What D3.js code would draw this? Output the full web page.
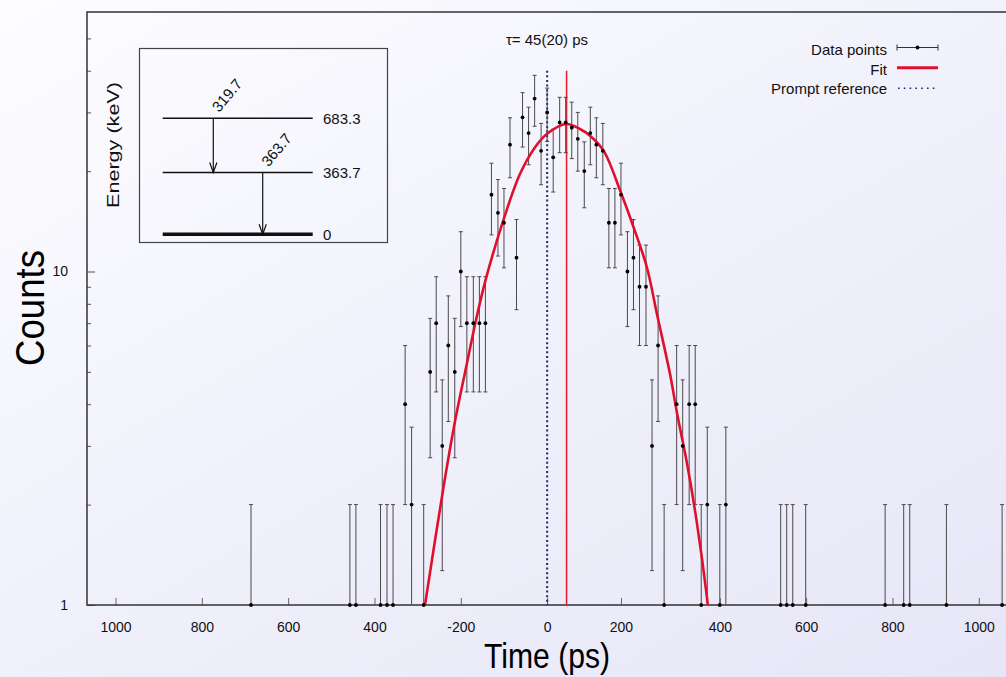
<!DOCTYPE html>
<html>
<head>
<meta charset="utf-8">
<script src="https://cdn.jsdelivr.net/npm/d3@7"></script>
<style>
  html, body { margin: 0; padding: 0; }
  body { width: 1006px; height: 677px; overflow: hidden;
         background: linear-gradient(150deg, #fdfdff 0%, #f2f2fc 45%, #e6e6f7 100%); }
  svg { display: block; font-family: "Liberation Sans", Arial, sans-serif; }
</style>
</head>
<body>
<svg id="chart" width="1006" height="677"></svg>
<script>
// ---------- data ----------
const times  = [-686,-457,-443,-386,-371,-357,-329,-314,-286,-271,-257,-243,-229,-214,-200,-186,-171,-157,-143,
                -129,-114,-100,-86,-71,-57,-43,-29,-14,0,14,29,43,57,71,86,100,114,129,143,157,171,186,200,214,
                229,243,257,271,300,314,329,343,357,371,400,414,541,555,569,599,783,826,840,925,1054];
const counts = [1,1,1,1,1,1,4,2,1,5,7,3,6,5,10,7,7,7,7,
                17,15,14,24,11,29,26,33,23,30,22,28,28,27,25,20,26,24,23,14,14,17,10,11,9,
                9,3,6,1,4,3,4,4,1,2,1,2,1,1,1,1,1,1,1,1,1];

const fitTimes  = [-283,-240,-213,-186,-163,-141,-101,-63,-28,0,44,77,100,131,169,200,231,254,285,301,324,347,370,372];
const fitCounts = [1.0,2.26,3.58,5.29,7.33,9.6,14.3,19.6,23.6,25.9,27.7,26.7,25.5,23.0,17.5,13.6,10.3,7.5,4.9,3.75,2.66,1.76,1.06,1.0];

const lifetime = 45;       // ps, red line
const promptTime = 0;      // ps, dotted reference
const refLineTop = 40;     // counts

const xTickVals   = [-1000,-800,-600,-400,-200,0,171,400,600,800,1000];
const xTickLabels = ["1000","800","600","400","-200","0","200","400","600","800","1000"];
const yMajorTicks = [1,10];
const yMinorTicks = [2,3,4,5,6,7,8,9,20,30,40,50];

const levelEnergies = [683.3, 363.7, 0];
const levelLabels   = ["683.3","363.7","0"];
const transFrom  = [683.3, 363.7];
const transTo    = [363.7, 0];
const transLabel = ["319.7","363.7"];

// ---------- layout ----------
const svg = d3.select("#chart");
const L = 87, R = 1006, T = 12, B = 605;
const x = d3.scaleLinear().domain([-1066, 1063]).range([L, R]);
const y = d3.scaleLog().domain([1, 60]).range([B, T]);

svg.append("defs").append("clipPath").attr("id","clip")
  .append("rect").attr("x",L).attr("y",T).attr("width",R-L).attr("height",B-T);

const frameColor = "#333";

// x axis ticks (inward)
const xAxis = d3.axisBottom(x).tickValues(xTickVals)
  .tickFormat((d,i) => xTickLabels[i]).tickSizeInner(-7).tickSizeOuter(0).tickPadding(17);
const gx = svg.append("g").attr("transform",`translate(0,${B})`).call(xAxis);
gx.select(".domain").remove();
gx.selectAll(".tick line").attr("stroke","#666").attr("stroke-width",1);
gx.selectAll(".tick text").attr("font-size",14).attr("fill","#111").attr("font-family","Liberation Sans, Arial, sans-serif");

// y axis
const yAxisMaj = d3.axisLeft(y).tickValues(yMajorTicks).tickFormat(d3.format("d"))
  .tickSizeInner(-8).tickSizeOuter(0).tickPadding(19);
const gy = svg.append("g").attr("transform",`translate(${L},0)`).call(yAxisMaj);
gy.select(".domain").remove();
gy.selectAll(".tick line").attr("stroke","#555");
gy.selectAll(".tick text").attr("font-size",14).attr("fill","#111").attr("font-family","Liberation Sans, Arial, sans-serif");
const yAxisMin = d3.axisLeft(y).tickValues(yMinorTicks).tickFormat("").tickSizeInner(-4).tickSizeOuter(0);
const gy2 = svg.append("g").attr("transform",`translate(${L},0)`).call(yAxisMin);
gy2.select(".domain").remove();
gy2.selectAll(".tick line").attr("stroke","#555");

// frame (top, left, bottom)
svg.append("path")
  .attr("d",`M${R},${T}H${L}V${B}H${R}`)
  .attr("fill","none").attr("stroke",frameColor).attr("stroke-width",1.5);

const plot = svg.append("g").attr("clip-path","url(#clip)");

// prompt reference (dotted)
plot.append("line")
  .attr("x1",x(promptTime)).attr("x2",x(promptTime))
  .attr("y1",y(refLineTop)).attr("y2",B)
  .attr("stroke","#23236e").attr("stroke-width",2).attr("stroke-dasharray","2,2.6");

// lifetime line
plot.append("line")
  .attr("x1",x(lifetime)).attr("x2",x(lifetime))
  .attr("y1",y(refLineTop)).attr("y2",B)
  .attr("stroke","#e41a2a").attr("stroke-width",1.5);

// error bars
const pts = times.map((t,i)=>({t, c: counts[i]}));
const eb = plot.append("g").attr("stroke","#4a4a4a").attr("stroke-width",1);
pts.forEach(p => {
  const e = Math.sqrt(p.c);
  const up = p.c + e, lo = p.c - e;
  const px = x(p.t);
  const yUp = y(up);
  const yLo = lo >= 1 ? y(lo) : B;
  eb.append("line").attr("x1",px).attr("x2",px).attr("y1",yUp).attr("y2",yLo);
  eb.append("line").attr("x1",px-2).attr("x2",px+2).attr("y1",yUp).attr("y2",yUp);
  if (lo >= 1) eb.append("line").attr("x1",px-2).attr("x2",px+2).attr("y1",yLo).attr("y2",yLo);
});

// fit curve
const fitData = fitTimes.map((t,i)=>[t, fitCounts[i]]);
plot.append("path")
  .datum(fitData)
  .attr("d", d3.line().x(d=>x(d[0])).y(d=>y(d[1])).curve(d3.curveCatmullRom.alpha(0.5)))
  .attr("fill","none").attr("stroke","#e0102c").attr("stroke-width",2.6);

// points
svg.append("g").selectAll("circle").data(pts).join("circle")
  .attr("cx",d=>x(d.t)).attr("cy",d=>y(d.c)).attr("r",1.9).attr("fill","#000");

// title
svg.append("text").attr("x",547).attr("y",45).attr("text-anchor","middle")
  .attr("font-size",15).attr("fill","#111").text("τ= 45(20) ps");

// axis titles
svg.append("text").attr("x",547).attr("y",668).attr("text-anchor","middle")
  .attr("font-size",35).attr("textLength",126).attr("lengthAdjust","spacingAndGlyphs")
  .attr("fill","#000").text("Time (ps)");
svg.append("text").attr("transform","translate(44,308) rotate(-90)").attr("text-anchor","middle")
  .attr("font-size",41).attr("textLength",116).attr("lengthAdjust","spacingAndGlyphs")
  .attr("fill","#000").text("Counts");

// legend
const lg = svg.append("g");
const legTextX = 887, symX0 = 897, symX1 = 938;
const legY = [55, 75, 94];
const legNames = ["Data points","Fit","Prompt reference"];
legNames.forEach((n,i)=>{
  lg.append("text").attr("x",legTextX).attr("y",legY[i]).attr("text-anchor","end")
    .attr("font-size",15).attr("fill","#111").text(n);
});
const ly0 = legY[0]-7.5;
lg.append("line").attr("x1",symX0).attr("x2",symX1).attr("y1",ly0).attr("y2",ly0).attr("stroke","#333").attr("stroke-width",1);
lg.append("line").attr("x1",symX0).attr("x2",symX0).attr("y1",ly0-3).attr("y2",ly0+3).attr("stroke","#333");
lg.append("line").attr("x1",symX1).attr("x2",symX1).attr("y1",ly0-3).attr("y2",ly0+3).attr("stroke","#333");
lg.append("circle").attr("cx",(symX0+symX1)/2).attr("cy",ly0).attr("r",1.9).attr("fill","#000");
const ly1 = legY[1]-7.3;
lg.append("line").attr("x1",symX0).attr("x2",symX1).attr("y1",ly1).attr("y2",ly1).attr("stroke","#e0102c").attr("stroke-width",3);
const ly2 = legY[2]-5.8;
lg.append("line").attr("x1",symX0+1).attr("x2",symX1-3).attr("y1",ly2).attr("y2",ly2)
  .attr("stroke","#23236e").attr("stroke-width",1.6).attr("stroke-dasharray","1.6,4.2");

// ---------- inset level scheme ----------
const ins = svg.append("g");
ins.append("rect").attr("x",139.5).attr("y",48.5).attr("width",248).attr("height",194)
  .attr("fill","none").attr("stroke","#444").attr("stroke-width",1.2);
const ey = d3.scaleLinear().domain([0, 683.3]).range([234.3, 118.3]);
const lvX0 = 162.7, lvX1 = 312.7;
levelEnergies.forEach((E,i)=>{
  ins.append("line").attr("x1",lvX0).attr("x2",lvX1).attr("y1",ey(E)).attr("y2",ey(E))
    .attr("stroke","#111").attr("stroke-width", E===0 ? 3.5 : 1.5);
  ins.append("text").attr("x",323).attr("y",ey(E)).attr("dy","0.36em")
    .attr("font-size",15).attr("fill","#111").text(levelLabels[i]);
});
const arrowX = [213.3, 262.7];
const labAnchor = [[219, 113],[268.5, 167.5]];
transFrom.forEach((E,i)=>{
  const ax = arrowX[i], y0 = ey(E), y1 = ey(transTo[i]);
  ins.append("line").attr("x1",ax).attr("x2",ax).attr("y1",y0).attr("y2",y1)
    .attr("stroke","#111").attr("stroke-width",1.2);
  ins.append("path").attr("d",`M${ax-3.6},${y1-10}L${ax},${y1}L${ax+3.6},${y1-10}`)
    .attr("fill","none").attr("stroke","#111").attr("stroke-width",1.2);
  ins.append("text").attr("transform",`translate(${labAnchor[i][0]},${labAnchor[i][1]}) rotate(-50)`)
    .attr("font-size",15).attr("fill","#111").text(transLabel[i]);
});
ins.append("text").attr("transform","translate(119,145) rotate(-90)").attr("text-anchor","middle")
  .attr("font-size",17).attr("textLength",126).attr("lengthAdjust","spacingAndGlyphs")
  .attr("fill","#111").text("Energy (keV)");
</script>
</body>
</html>
